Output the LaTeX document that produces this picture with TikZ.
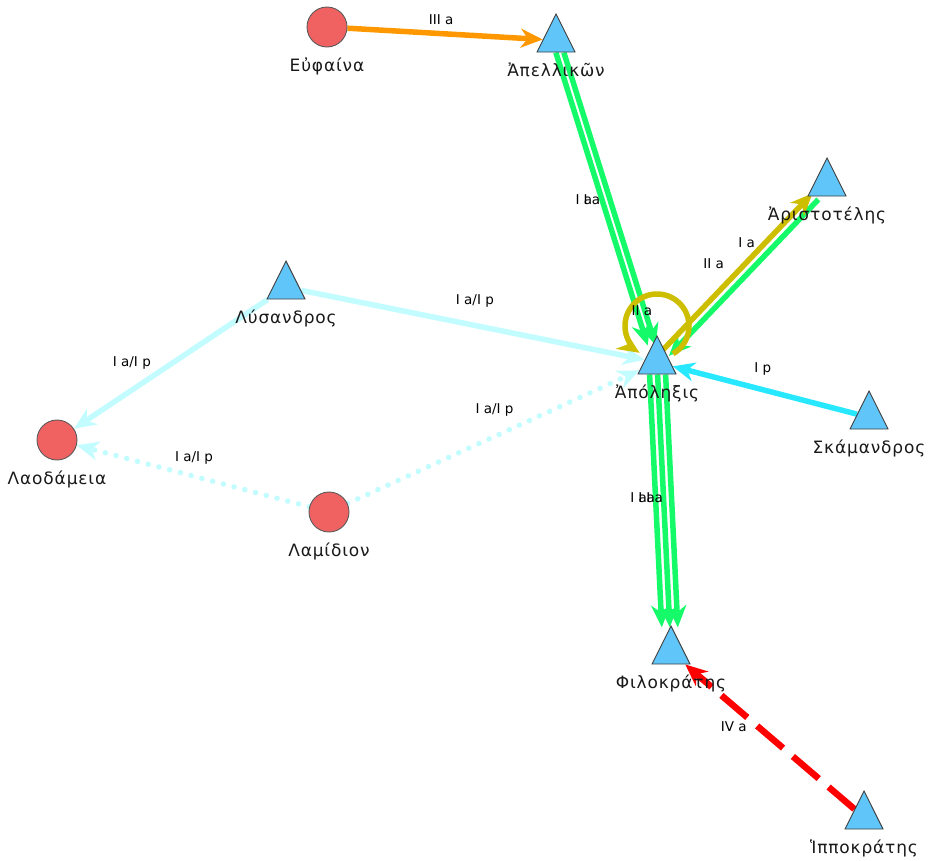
\documentclass[tikz,border=0pt]{standalone}
\usepackage{fontspec}
\setmainfont{DejaVu Sans}
\newfontfamily\namefont[LetterSpace=5]{DejaVu Sans}
\usetikzlibrary{shapes.geometric,arrows.meta,backgrounds}

\definecolor{manblue}{RGB}{96,198,250}
\definecolor{womanred}{RGB}{240,98,98}
\definecolor{lgreen}{RGB}{20,250,105}
\definecolor{lolive}{RGB}{205,190,0}
\definecolor{lorange}{RGB}{255,152,0}
\definecolor{lcyan}{RGB}{40,232,255}
\definecolor{lpale}{RGB}{195,252,255}
\definecolor{lred}{RGB}{255,0,0}

\tikzset{
	man/.style={isosceles triangle, isosceles triangle apex angle=53.13,
		shape border rotate=90, minimum width=38pt, minimum height=38pt,
		inner sep=0pt, anchor=apex, fill=manblue, draw=black!75, line width=0.9pt},
	woman/.style={circle, minimum size=40pt, inner sep=0pt,
		fill=womanred, draw=black!65, line width=0.9pt},
	nlab/.style={font=\namefont\fontsize{17}{17}\selectfont, text=black!90, label distance=7pt},
	elab/.style={font=\fontsize{13.5}{13.5}\selectfont, text=black, inner sep=0pt},
	rel/.style={line width=5.5pt, -{Stealth[length=22pt,width=19pt,inset=7pt]}},
	dotline/.style={dash pattern=on 0.1pt off 11pt, line cap=round},
}

\begin{document}
\begin{tikzpicture}[x=1pt,y=-1pt]
	
	\useasboundingbox (0,0) rectangle (933,860);
	
	% The persons
	\node[woman, label={[nlab]below:Εὐφαίνα}] (euph) at (327,27) {};
	\node[man, label={[nlab]below:Ἀπελλικῶν}] (apel) at (556,13) {};
	\node[man, label={[nlab]below:Ἀριστοτέλης}] (arist) at (827,157) {};
	\node[man, label={[nlab]below:Λύσανδρος}] (lys) at (286,260) {};
	\node[man, label={[nlab]below:Ἀπόληξις}] (apol) at (657,335) {};
	\node[man, label={[nlab]below:Σκάμανδρος}] (skam) at (869,390) {};
	\node[woman, label={[nlab]below:Λαοδάμεια}] (laod) at (57,440) {};
	\node[woman, label={[nlab]below:Λαμίδιον}] (lamid) at (329,512) {};
	\node[man, label={[nlab]below:Φιλοκράτης}] (philo) at (671,625) {};
	\node[man, label={[nlab]below:Ἱπποκράτης}] (hipp) at (864,790) {};
	
	\begin{scope}[on background layer]
		% The relations
		\draw[rel, lorange] (euph) -- node[elab, shift={(-4,-14)}] {III a} (apel);
		\foreach \s in {-4,4}{
			\draw[rel, lgreen, transform canvas={xshift=\s pt}]
			     (apel) -- node[elab, shift={(-18,1)}] {I a} (apol);
		}
		\draw[rel, lgreen, transform canvas={shift={(3pt,-3pt)}}]
		     (arist) -- node[elab, shift={(3,-35)}] {I a} (apol);
		\draw[rel, lolive, transform canvas={shift={(-3pt,3pt)}}]
		     (apol) -- node[elab, shift={(-24,-8)}] {II a} (arist);
		\foreach \s in {-8,0,8}{
			\draw[rel, lgreen, transform canvas={xshift=\s pt}]
			     (apol) -- node[elab, shift={(-17,-3)}] {I a} (philo);
		}
		\draw[rel, lpale] (lys) -- node[elab, shift={(2,-24)}] {I a/I p} (apol);
		\draw[rel, lpale] (lys) -- node[elab, shift={(-39,-1)}] {I a/I p} (laod);
		\draw[rel, lpale, dotline] (lamid) -- node[elab, shift={(1,-18)}] {I a/I p} (laod);
		\draw[rel, lpale, dotline] (lamid) -- node[elab, shift={(1,-27)}] {I a/I p} (apol);
		\draw[rel, lcyan] (skam) -- node[elab, shift={(-2,-21)}] {I p} (apol);
		\draw[rel, lred, line width=6.5pt, dash pattern=on 34pt off 13pt]
		     (hipp) -- node[elab, shift={(-36,-10)}] {IV a} (philo);
		
		% The loop on Apolexis
		\draw[rel, lolive] ([yshift=9pt]apol.apex) node[elab, shift={(-15,-15)}] {II a}
		     ++(60:32) arc[start angle=60, end angle=-237, radius=32];
	\end{scope}
	
\end{tikzpicture}
\end{document}
